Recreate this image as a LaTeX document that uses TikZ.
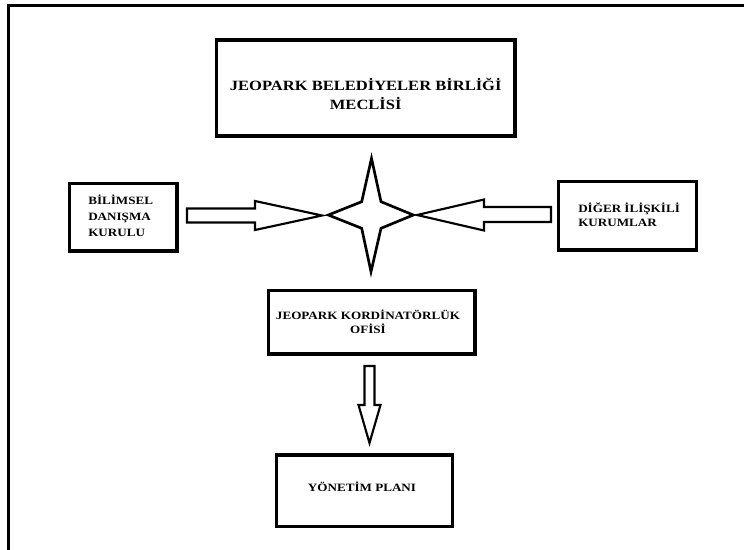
\documentclass[tikz,border=0pt]{standalone}
\usepackage{fontspec}
\setmainfont{Liberation Serif}[FakeStretch=1.17]
\begin{document}
\begin{tikzpicture}[x=0.75pt,y=-0.75pt,
  boxline/.style={draw=black,line width=2.3pt,fill=white},
  blockarrow/.style={draw=black,line width=1.6pt,line join=miter,fill=white},
  bigtext/.style={font=\bfseries\fontsize{10.6}{14.25}\selectfont,inner sep=0pt},
  smalltext/.style={font=\bfseries\fontsize{8.4}{10.5}\selectfont,inner sep=0pt}]
\useasboundingbox (0,0) rectangle (744,550);
% frame (top and left only)
\draw[line width=2.6pt,line join=miter] (745,5.7) -- (8.7,5.7) -- (8.7,552);
% boxes
\draw[boxline] (216.7,40) rectangle (515,136);
\draw[boxline] (69.3,183.3) rectangle (177,251);
\draw[boxline] (558.3,181.7) rectangle (696.7,250);
\draw[boxline] (268.3,290.7) rectangle (475,354);
\draw[boxline] (276.7,455) rectangle (452.7,526.7);
% texts (base anchor = baseline of the last line)
\node[bigtext,anchor=base,align=center] (meclis) at (365.7,109) {JEOPARK BELEDİYELER BİRLİĞİ\\MECLİSİ};
\node[smalltext,anchor=base west,align=left,font=\bfseries\fontsize{8.4}{12}\selectfont] (bilim) at (88,236.7) {BİLİMSEL\\DANIŞMA\\KURULU};
\node[smalltext,anchor=base west,align=left] (diger) at (578,226.7) {DİĞER İLİŞKİLİ\\KURUMLAR};
\node[smalltext,anchor=base,align=center] (ofis) at (368,333.3) {JEOPARK KORDİNATÖRLÜK\\OFİSİ};
\node[smalltext,anchor=base] (plan) at (362,491.7) {YÖNETİM PLANI};
% star
\draw[line width=2pt,line join=miter,fill=white]
  (371.5,158.3) -- (381,201.7) -- (413.3,215) -- (381,228.3) -- (371,271.7)
  -- (361.7,228.3) -- (328.3,215) -- (361.7,201.7) -- cycle;
% left block arrow
\draw[blockarrow] (187,208.5) -- (255,208.5) -- (255,201) -- (322,215.5)
  -- (255,230) -- (255,222.5) -- (187,222.5) -- cycle;
% right block arrow
\draw[blockarrow] (551,207) -- (484,207) -- (484,199.5) -- (417,215)
  -- (484,230.5) -- (484,222) -- (551,222) -- cycle;
% down block arrow
\draw[blockarrow] (364.5,366) -- (374.5,366) -- (374.5,405) -- (380.5,405)
  -- (369.5,443) -- (358.5,405) -- (364.5,405) -- cycle;
\end{tikzpicture}
\end{document}
